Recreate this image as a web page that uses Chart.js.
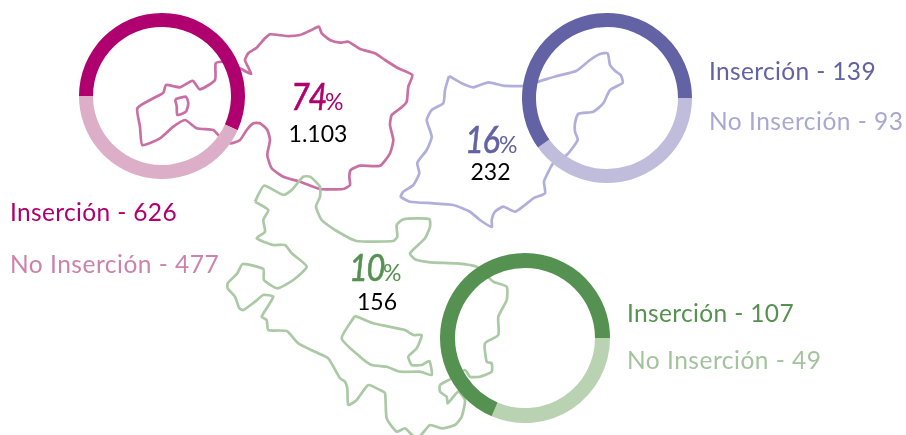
<!DOCTYPE html>
<html lang="es"><head><meta charset="utf-8">
<script src="https://cdn.jsdelivr.net/npm/chart.js@4"></script>
<style>
html,body{margin:0;padding:0;background:#fff}
#stage{position:relative;width:906px;height:435px;overflow:hidden;font-family:Lato,sans-serif}
canvas{position:absolute;display:block}
.t{position:absolute;white-space:nowrap;line-height:1}
.lab{font-size:24.5px;letter-spacing:.35px}
.lab.no{letter-spacing:.5px}
.pct b{display:inline-block;font-size:37px;font-style:italic;font-weight:400;letter-spacing:-1.5px;transform:scaleX(.88);transform-origin:0 100%;-webkit-text-stroke:.6px currentColor;width:32px}
.pct span{font-size:23px;font-style:normal;font-weight:400;margin-left:2px}
.num{font-size:23px;color:#000;transform:translateX(-50%)}
</style></head><body><div id="stage"><canvas id="map" width="906" height="435" style="left:0;top:0"></canvas></div>
<script>
const regions = ["Region A","Region B","Region C"];
const insercion = [626,139,107];
const noInsercion = [477,93,49];
const totals = ["1.103","232","156"];
const percents = [74,16,10];

const outlinePinkMain = [[240,68.3],[251,74],[248.7,68.3],[245,60],[248.3,53.3],[256.7,47.7],[265,38.3],[270,34.3],[286.7,36],[300,35],[310,30.7],[319,26.7],[321.7,33.3],[330,40],[340,42.7],[348.3,41.7],[360,49],[375,53.3],[385,60],[398.3,68.3],[412.3,75],[408.3,86.7],[406.7,101.7],[401.7,107.3],[391.7,115],[390,125],[393.3,140],[390,153.3],[380,165.7],[360,165.7],[350.7,170],[349.3,176.7],[350,185],[343.3,189],[320,189],[300,181.7],[283.3,176.7],[271.7,168.3],[267.3,155],[270,140],[267.3,130],[260,123.3],[253.3,123.3],[246.7,130],[240,140],[230,143.3],[218.3,135],[213.3,130],[196.7,128.3],[185,120],[173.3,126.7],[160,138.3],[142.3,145],[140,126.7],[137.3,108.3],[150,100],[163.3,92.7],[166,85],[180,87.3],[190,81.7],[193.3,81],[200,89.3],[215,80],[215.7,63.3],[223.3,61.7],[240,68.3]];
const outlinePinkHole = [[175,99.3],[186,96.7],[188.3,103.3],[186,111.7],[177.3,115],[176.7,106],[175,99.3]];
const outlinePurple = [[449,76],[461.7,83.3],[473.3,87.3],[488.3,82.3],[503.3,85.7],[523.3,86],[538.3,81.7],[556.7,76],[576.7,70.7],[590,60],[600,54],[607.7,53.3],[610,65],[615,70.7],[620.7,75],[622.7,82.7],[610,90],[603.3,103.3],[593.3,111.7],[578.3,114],[575,123.3],[575,131.7],[577.7,140],[566.7,155],[553.3,163.3],[549.3,170],[544,181.7],[545,193.3],[533.3,198.3],[525,205],[515,211.7],[503.3,206.7],[495,211.7],[491.7,220],[491.7,227],[480,220],[470,211.7],[453.3,205],[433.3,203.3],[410,201.7],[400.7,196.7],[403.3,191.7],[413.3,185],[419.3,173.3],[417.3,162.7],[426.7,150],[431.7,136.7],[426.7,120],[431.7,110],[443.3,103.3],[445,90],[449,76]];
const outlineGreenMain = [[255,201.7],[264,185.7],[283.3,195],[291.7,190],[303.3,176.7],[310,176.7],[320,186.7],[320,196.7],[316,206.7],[321.7,220],[335,230],[356.7,241],[393.3,241],[397.3,236.7],[396.7,225],[403.3,219.3],[429.3,219],[430,226.7],[425,238.3],[410,253.3],[415,259.3],[430,262.3],[456.7,263.3],[476.7,266.7],[493.3,281.7],[506.7,286.7],[506.7,300],[498.3,316.7],[498.3,335],[485,343.3],[486.7,361.7],[491.7,363.3],[491.7,371.7],[480,376.7],[470,376.7],[465,370],[450,379.3],[440,385],[440,391.7],[446.7,396.7],[447.7,403.3],[458.3,391.7],[465,400],[461.7,416.7],[455,425],[441.7,428.3],[430,425],[420,436],[413.3,436],[405,428.3],[396.7,431.7],[386.7,418.3],[385,393.3],[380,390],[368.3,385],[356.7,400],[348.3,405],[347.3,388.3],[345,381.7],[340,378.3],[328.3,358.3],[315,351.7],[298.3,343.3],[286.7,331],[268.3,330],[266.7,320],[261.7,316.7],[273.3,296.7],[263.3,295],[255,301.7],[243.3,310],[239.3,308.3],[235,296.7],[227.7,288.3],[227.7,283.3],[237.3,273.3],[242.7,264],[263.3,269],[264,280],[277.3,288.3],[293.3,280],[306.7,266.7],[291.7,253.3],[285,245],[273.3,245],[256.7,238.3],[265,231.7],[263.3,220],[268.3,210],[255,201.7]];
const outlineGreenIsland = [[355,315.7],[373.3,323.3],[405,330],[413.3,335],[421.7,335],[416.7,348.3],[408.3,356.7],[411.7,365],[421.7,365],[429.3,361],[431.7,375],[420,371.7],[400,371.7],[386.7,366.7],[371.7,365],[360,356.7],[341.7,338.3],[355,315.7]];

const colPink=["#b0006f","#ddaec8","#c96fa3","#cd82ac"];
const colPurple=["#6262a5","#bfbcdc","#b0aedb","#a9a7d3"];
const colGreen=["#559150","#b9d2b1","#abc9a5","#a3c39c"];

const toPts = a => a.map(p => ({x:p[0],y:p[1]}));
const outlineSet = (pts,color,order) => ({data:toPts(pts),borderColor:color,borderWidth:2.7,borderJoinStyle:'round',showLine:true,fill:false,pointRadius:0,tension:0.18,order});
new Chart(document.getElementById('map'),{type:'scatter',data:{datasets:[
  outlineSet(outlineGreenMain,colGreen[2],1),
  outlineSet(outlineGreenIsland,colGreen[2],1),
  outlineSet(outlinePurple,colPurple[2],2),
  outlineSet(outlinePinkMain,colPink[2],3),
  outlineSet(outlinePinkHole,colPink[2],3)
]},options:{responsive:false,animation:false,layout:{padding:0},clip:false,
  plugins:{legend:{display:false},tooltip:{enabled:false}},
  scales:{x:{type:'linear',display:false,min:0,max:906},y:{type:'linear',display:false,min:0,max:435,reverse:true}}}});

const stage=document.getElementById('stage');
function ring(cx,cy,R,r,values,colors,rotation){
  const c=document.createElement('canvas');c.width=c.height=2*R;
  c.style.left=(cx-R)+'px';c.style.top=(cy-R)+'px';stage.appendChild(c);
  new Chart(c,{type:'doughnut',data:{labels:['a','b'],datasets:[{data:values,backgroundColor:colors,borderWidth:0}]},
    options:{responsive:false,animation:false,cutout:r,rotation,layout:{padding:0},plugins:{legend:{display:false},tooltip:{enabled:false}}}});
}
ring(161.5,96,83,69,[insercion[0],noInsercion[0]],[colPink[0],colPink[1]],-90);
ring(607,98,85,71,[noInsercion[1],insercion[1]],[colPurple[1],colPurple[0]],90);
ring(525,338,85,70,[noInsercion[2],insercion[2]],[colGreen[1],colGreen[0]],90);

function text(cls,x,y,html,color){const d=document.createElement('div');d.className='t '+cls;d.style.left=x+'px';d.style.top=y+'px';if(color)d.style.color=color;d.innerHTML=html;stage.appendChild(d);}
text('lab',10,200,`Inserción - ${insercion[0]}`,colPink[0]);
text('lab no',10,252,`No Inserción - ${noInsercion[0]}`,colPink[3]);
text('lab',709,59,`Inserción - ${insercion[1]}`,colPurple[0]);
text('lab no',709,109,`No Inserción - ${noInsercion[1]}`,colPurple[3]);
text('lab',627,301,`Inserción - ${insercion[2]}`,colGreen[0]);
text('lab no',627,348,`No Inserción - ${noInsercion[2]}`,colGreen[3]);
text('pct',291,77,`<b>${percents[0]}</b><span>%</span>`,colPink[0]);
text('pct',465,120,`<b>${percents[1]}</b><span>%</span>`,colPurple[0]);
text('pct',349,248,`<b>${percents[2]}</b><span>%</span>`,colGreen[0]);
text('num',318,122,totals[0]);
text('num',490.5,160,totals[1]);
text('num',377,290,totals[2]);
</script></body></html>
